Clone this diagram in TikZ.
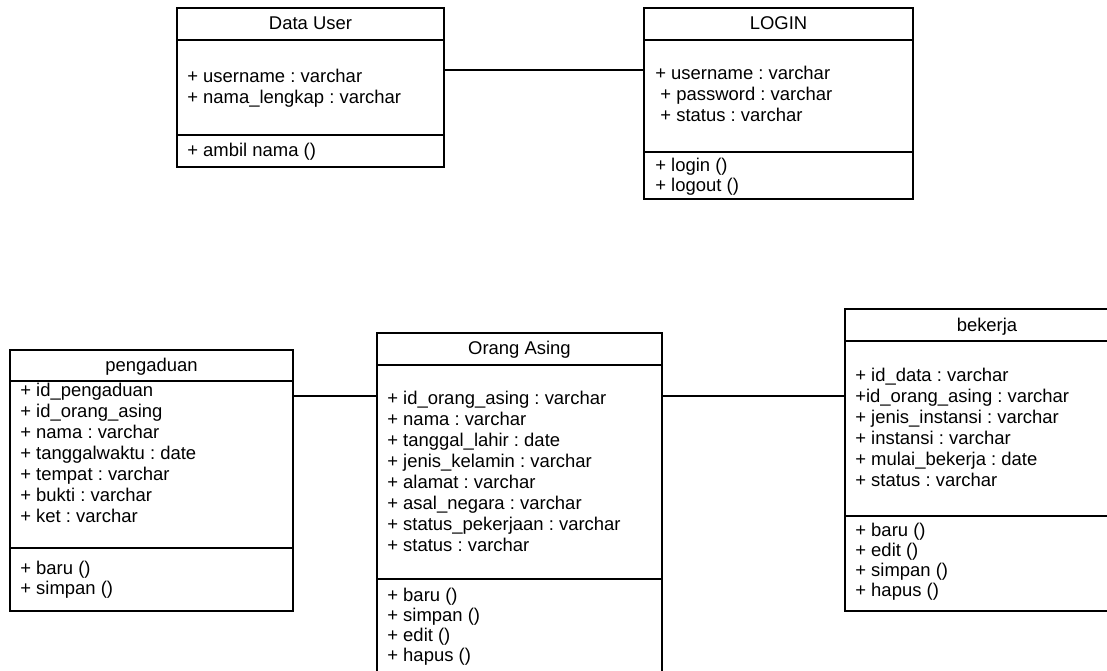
\documentclass[tikz,border=0pt]{standalone}
\usepackage{fontspec}
\setmainfont{Liberation Sans}
\begin{document}
\begin{tikzpicture}[x=0.02cm,y=-0.02cm,cls/.style={draw,line width=1pt,inner sep=0pt},
title/.style={anchor=base,inner sep=0pt,font=\fontsize{10.5}{12}\selectfont},
attr/.style={anchor=base west,align=left,inner sep=0pt,font=\fontsize{10.5}{11.95}\selectfont\frenchspacing},
ops/.style={anchor=base west,align=left,inner sep=0pt,font=\fontsize{10.5}{11.4}\selectfont\frenchspacing}]

\useasboundingbox (0,0) rectangle (1107,671);
\clip (0,0) rectangle (1107,671);

%classes
\node[cls,minimum width=5.34cm,minimum height=3.18cm] (user) at (310.5,87.5) {};
\node[cls,minimum width=5.38cm,minimum height=3.82cm] (login) at (778.5,103.5) {};
\node[cls,minimum width=5.66cm,minimum height=5.22cm] (pengaduan) at (151.5,480.5) {};
\node[cls,minimum width=5.70cm,minimum height=6.94cm] (orang) at (519.5,506.5) {};
\node[cls,minimum width=5.68cm,minimum height=6.04cm] (bekerja) at (987,460) {};

%compartments
\draw [line width=1pt] (user.west |- 0,40) -- (user.east |- 0,40);
\draw [line width=1pt] (user.west |- 0,135) -- (user.east |- 0,135);
\draw [line width=1pt] (login.west |- 0,40) -- (login.east |- 0,40);
\draw [line width=1pt] (login.west |- 0,152) -- (login.east |- 0,152);
\draw [line width=1pt] (pengaduan.west |- 0,381) -- (pengaduan.east |- 0,381);
\draw [line width=1pt] (pengaduan.west |- 0,548) -- (pengaduan.east |- 0,548);
\draw [line width=1pt] (orang.west |- 0,365) -- (orang.east |- 0,365);
\draw [line width=1pt] (orang.west |- 0,579) -- (orang.east |- 0,579);
\draw [line width=1pt] (bekerja.west |- 0,341) -- (bekerja.east |- 0,341);
\draw [line width=1pt] (bekerja.west |- 0,516) -- (bekerja.east |- 0,516);

%names
\node[title] (userN) at (310.5,30) {Data User};
\node[title] (loginN) at (778.5,30) {LOGIN};
\node[title] (pengaduanN) at (151.5,371.5) {pengaduan};
\node[title] (orangN) at (519.5,355) {Orang Asing};
\node[title] (bekerjaN) at (987,331.5) {bekerja};

%attributes (anchored at the last line)
\node[attr] (userA) at (187,104) {+ username : varchar\\+ nama\_lengkap : varchar};
\node[attr] (loginA) at (655,121.7) {+ username : varchar\\\ + password : varchar\\\ + status : varchar};
\node[attr] (pengaduanA) at (20,522.7) {+ id\_pengaduan\\+ id\_orang\_asing\\+ nama : varchar\\+ tanggalwaktu : date\\+ tempat : varchar\\+ bukti : varchar\\+ ket : varchar};
\node[attr] (orangA) at (387,551.7) {+ id\_orang\_asing : varchar\\+ nama : varchar\\+ tanggal\_lahir : date\\+ jenis\_kelamin : varchar\\+ alamat : varchar\\+ asal\_negara : varchar\\+ status\_pekerjaan : varchar\\+ status : varchar};
\node[attr] (bekerjaA) at (855,486.7) {+ id\_data : varchar\\+id\_orang\_asing : varchar\\+ jenis\_instansi : varchar\\+ instansi : varchar\\+ mulai\_bekerja : date\\+ status : varchar};

%operations
\node[ops] (userO) at (187,157) {+ ambil nama ()};
\node[ops] (loginO) at (655,192) {+ login ()\\+ logout ()};
\node[ops] (pengaduanO) at (20,595) {+ baru ()\\+ simpan ()};
\node[ops] (orangO) at (387,661.7) {+ baru ()\\+ simpan ()\\+ edit ()\\+ hapus ()};
\node[ops] (bekerjaO) at (855,597) {+ baru ()\\+ edit ()\\+ simpan ()\\+ hapus ()};

%associations
\path (user.north east) ++(0,63) coordinate (u1);
\path (pengaduan.north east) ++(0,47) coordinate (p1);
\draw [line width=1pt] (u1) -- (u1 -| login.west);
\draw [line width=1pt] (p1) -- (p1 -| orang.west);
\draw [line width=1pt] (p1 -| orang.east) -- (p1 -| bekerja.west);
\end{tikzpicture}
\end{document}
